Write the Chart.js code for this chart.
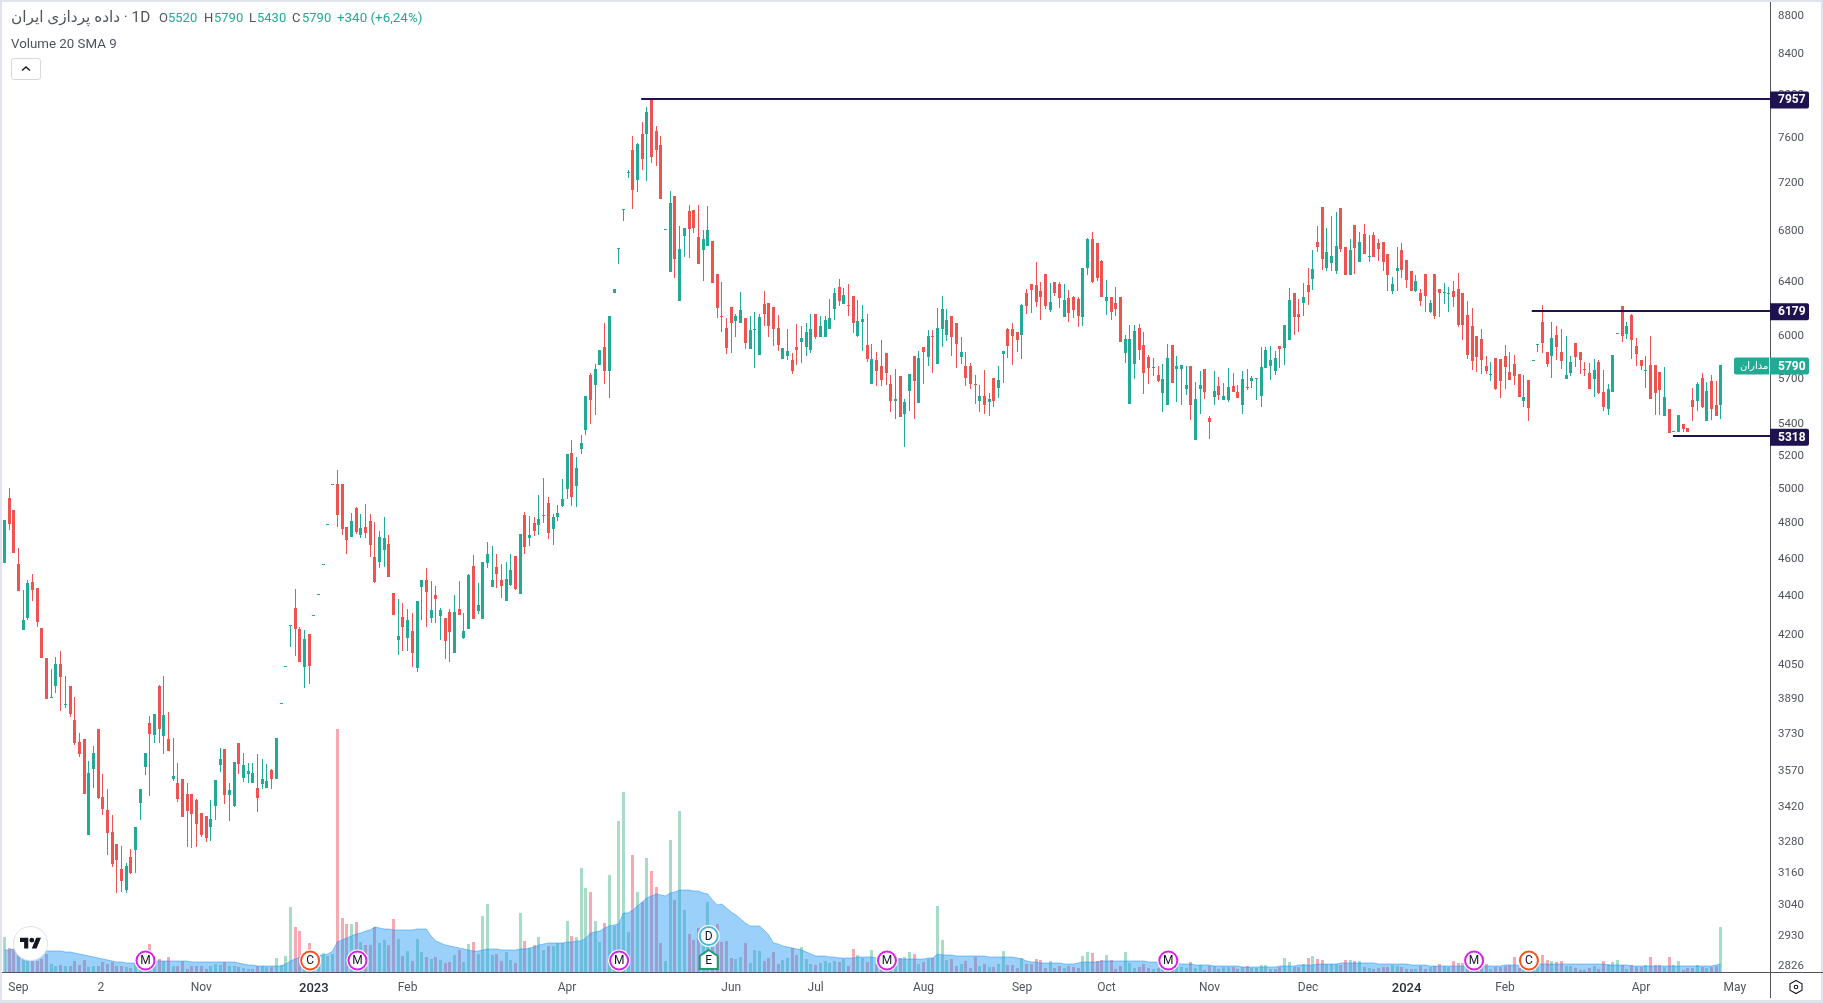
<!DOCTYPE html>
<html>
<head>
<meta charset="utf-8">
<title>داده پردازی ایران</title>
<script src="https://cdn.jsdelivr.net/npm/chart.js@4"></script>
<style>
    html, body { margin: 0; padding: 0; background: #e0e3eb; overflow: hidden; }
    #panel { position: absolute; left: 2px; top: 2px; width: 1819px; height: 998px; background: #fff; }
    #chart { position: absolute; left: 0; top: 0; }
    .txt { position: absolute; font-family: Roboto, "DejaVu Sans", sans-serif; white-space: nowrap; line-height: 16px; color: #50535e; }
    .row { font-size: 13px; top: 10px; }
    .up { color: #22ab94; }
    #btn { position: absolute; left: 11px; top: 58px; width: 28px; height: 20px; border: 1px solid #d6d8df; border-radius: 3px; background: #fff; }
    #logo { position: absolute; left: 14px; top: 927px; width: 33px; height: 33px; border-radius: 50%; background: #fff; box-shadow: 0 0 0 1px #e0e3eb; }
</style>
</head>
<body>
<div id="panel"></div>
<canvas id="chart" width="1823" height="1003"></canvas>

<div class="txt" style="left:11px; top:9px; font-size:15.3px;"><span dir="rtl">داده پردازی ایران</span> · 1D</div>
<div class="txt row" style="left:159px;">O</div><div class="txt row up" style="left:168px;">5520</div>
<div class="txt row" style="left:204px;">H</div><div class="txt row up" style="left:214px;">5790</div>
<div class="txt row" style="left:249px;">L</div><div class="txt row up" style="left:257px;">5430</div>
<div class="txt row" style="left:292px;">C</div><div class="txt row up" style="left:302px;">5790</div>
<div class="txt row up" style="left:337px; font-size:13.4px;">+340 (+6,24%)</div>
<div class="txt" style="left:11px; top:36px; font-size:13.3px;">Volume 20 SMA 9</div>
<div id="btn"><svg width="28" height="20"><path d="M10 11.5 L14 8 L18 11.5" fill="none" stroke="#131722" stroke-width="1.4"/></svg></div>
<div id="logo"><svg width="33" height="33" viewBox="0 0 33 33"><g transform="translate(6 8.5) scale(0.59)" fill="#131722"><path d="M14 22H7V11H0V4h14v18zM28 22h-8l7.5-18h8L28 22z"/><circle cx="20" cy="8" r="4"/></g></svg></div>
<svg style="position:absolute; left:1788px; top:979px;" width="16" height="16" viewBox="0 0 16 16"><path d="M8 1.5 L14 4.8 V11.2 L8 14.5 L2 11.2 V4.8 Z" fill="none" stroke="#131722" stroke-width="1.1"/><circle cx="8" cy="8" r="1.8" fill="none" stroke="#131722" stroke-width="1.1"/></svg>

<script>
// Daily candles
const opens = [
    4573,4941,4871,4566,4220,4281,4469,4437,4230,4081,
    3890,3947,4052,3858,3947,3790,3692,3705,3304,3574,
    3750,3457,3404,3316,3269,3172,3093,3218,3245,3432,
    3583,3776,3723,3947,3718,3705,3532,3516,3532,3470,
    3470,3445,3392,3380,3336,3420,3592,3661,3466,3420,
    3687,3536,3553,3516,3495,3512,3495,3570,3532,3862,
    4036,4240,4332,4225,4037,4200,4292,4400,4560,4785,
    5019,5024,5024,4773,4715,4882,4727,4773,4807,4605,
    4577,4643,4677,4411,4170,4286,4179,4215,4032,4443,
    4480,4281,4400,4291,4281,4312,4106,4327,4179,4225,
    4554,4316,4275,4571,4442,4549,4479,4368,4452,4610,
    4405,4841,4709,4795,4784,4836,4911,4761,4830,4893,
    4994,5213,5011,5240,5360,5724,5656,5793,5918,5751,
    6314,6654,6970,7288,7488,7224,7627,7627,7957,7661,
    7532,6806,6473,7088,6253,6758,6962,6970,6750,6645,
    6676,6717,6458,6142,6055,6208,6105,6091,6127,5904,
    6042,5862,6231,6238,6208,6055,5835,5855,5828,5918,
    5954,5918,5897,6156,5989,5989,6048,6194,6359,6231,
    6224,6291,5996,6098,5932,5662,5828,5786,5876,5662,
    5549,5717,5463,5614,5855,5536,5918,5849,5997,5800,
    6048,6003,6141,6091,5849,5786,5786,5663,5549,5582,
    5542,5702,5636,5869,6048,6048,6026,6004,6311,6380,
    6373,6327,6457,6186,6395,6380,6134,6275,6283,6268,
    6134,6505,6734,6695,6558,6253,6283,6238,6283,5876,
    5530,5799,6054,5933,5848,5775,5725,5602,5523,5933,
    5760,5760,5629,5781,5291,5629,5760,5438,5576,5649,
    5556,5556,5649,5608,5523,5643,5684,5698,5583,5767,
    5781,5752,5926,5912,5968,6311,6156,6238,6373,6418,
    6703,6995,6505,6542,6482,6986,6670,6449,6845,6550,
    6770,6589,6762,6695,6703,6612,6327,6475,6643,6565,
    6475,6327,6311,6457,6171,6457,6342,6312,6305,6327,
    6342,6312,6148,6067,5996,5974,5784,5724,5839,5832,
    5853,5743,5798,5730,5547,5688,5819,5931,6096,5882,
    5853,6003,5882,5695,5737,5945,5882,5760,5737,5695,
    5811,5607,5494,5607,6011,6213,6010,6148,5920,5825,
    5750,5791,5791,5743,5450,5494,5346,5346,5397,5370,
    5554,5547,5702,5416,5681,5520,5520
];
const highs = [
    4813,5001,4871,4654,4427,4480,4512,4437,4230,4081,
    4027,4086,4116,3994,3947,3896,3732,3705,3609,3674,
    3750,3553,3491,3384,3269,3261,3195,3249,3336,3491,
    3644,3809,3818,3952,3994,3827,3709,3600,3532,3516,
    3470,3449,3392,3380,3445,3528,3666,3661,3516,3605,
    3687,3644,3600,3600,3640,3618,3596,3574,3709,3868,
    4041,4244,4432,4235,4220,4200,4297,4406,4566,4791,
    5025,5108,5024,4773,4853,4888,4848,4905,4848,4802,
    4749,4830,4727,4411,4379,4358,4327,4307,4368,4480,
    4544,4475,4448,4332,4281,4327,4400,4475,4306,4510,
    4615,4463,4576,4687,4665,4621,4565,4576,4621,4610,
    4732,4858,4835,4830,4958,5058,4947,4847,4899,5052,
    5207,5294,5189,5328,5582,5737,5800,5897,6091,6141,
    6344,6660,6976,7312,7609,7550,7739,7883,7957,7705,
    7609,6812,7130,7088,6837,6821,7012,6970,7012,6805,
    7004,6717,6458,6396,6127,6208,6156,6321,6127,6141,
    6171,6156,6329,6238,6208,6149,5911,6048,5876,6084,
    6070,6091,6156,6156,6141,6141,6269,6351,6419,6351,
    6381,6291,6261,6223,6156,5939,5883,5968,5876,5724,
    5765,5717,5562,5730,5855,5890,5918,6041,6041,6201,
    6291,6194,6141,6091,5989,5883,5806,5724,5656,5758,
    5602,5702,5786,5890,6055,6091,6026,6230,6342,6380,
    6550,6395,6457,6388,6395,6395,6380,6334,6290,6283,
    6505,6742,6789,6695,6565,6411,6283,6357,6283,6004,
    6075,6075,6082,6025,5862,5841,5781,5799,5940,5933,
    5855,5788,5781,5781,5677,5747,5760,5445,5752,5711,
    5670,5767,5732,5656,5752,5760,5718,5702,5919,5919,
    5926,5888,5926,6075,6349,6311,6268,6388,6505,6643,
    6836,6995,6819,6919,6953,6986,6670,6734,6845,6789,
    6853,6762,6789,6734,6703,6612,6434,6670,6695,6565,
    6475,6449,6342,6457,6260,6457,6342,6388,6357,6403,
    6465,6312,6252,6199,5996,6045,5853,5811,5839,5832,
    5927,5882,5861,5730,5723,5688,5824,5935,6220,5882,
    6096,6067,6045,5996,5853,5945,5882,5811,5805,5832,
    5825,5757,5662,5861,6016,6213,6096,6155,5981,5825,
    5853,5996,5791,5743,5777,5494,5350,5456,5397,5370,
    5635,5675,5737,5675,5723,5681,5790
];
const lows = [
    4573,4755,4627,4422,4220,4271,4368,4235,4081,3886,
    3890,3914,3831,3845,3804,3679,3627,3470,3304,3495,
    3449,3384,3226,3180,3082,3086,3082,3153,3157,3364,
    3549,3462,3687,3687,3640,3653,3524,3437,3376,3257,
    3253,3257,3296,3276,3280,3364,3561,3428,3360,3416,
    3553,3520,3516,3516,3396,3491,3495,3491,3532,3862,
    4036,4135,4091,4061,3938,3956,4292,4400,4560,4785,
    5019,4771,4727,4621,4715,4732,4710,4710,4605,4464,
    4544,4550,4496,4296,4096,4116,4116,4037,4013,4271,
    4235,4256,4256,4170,4076,4061,4106,4296,4174,4225,
    4275,4301,4275,4543,4442,4437,4384,4368,4447,4426,
    4405,4621,4665,4721,4727,4795,4704,4671,4807,4887,
    4935,4893,4887,5209,5328,5399,5456,5793,5662,5569,
    6314,6536,6877,7241,6979,7122,7312,7215,7374,7341,
    7062,6806,6473,6427,6253,6590,6582,6782,6536,6403,
    6676,6388,6127,6026,5869,5876,5989,6091,5904,5904,
    5772,5862,6063,5989,5925,5890,5835,5828,5730,5793,
    5806,5855,5876,5975,5989,5989,6048,6112,6216,6231,
    6141,6018,5989,5890,5813,5662,5649,5649,5656,5476,
    5431,5443,5252,5483,5431,5536,5662,5786,5737,5800,
    5918,5961,5855,5772,5800,5649,5627,5529,5476,5463,
    5450,5509,5569,5669,5842,5793,5883,5834,6156,6163,
    6208,6112,6193,6171,6290,6200,6134,6097,6127,6061,
    6068,6449,6388,6403,6283,6149,6112,6141,5954,5806,
    5530,5697,5825,5596,5663,5718,5677,5477,5523,5670,
    5537,5523,5589,5425,5291,5458,5563,5302,5523,5556,
    5556,5543,5608,5569,5458,5622,5636,5556,5510,5767,
    5690,5725,5767,5788,5968,6004,6025,6141,6223,6334,
    6628,6490,6482,6482,6457,6628,6449,6449,6457,6550,
    6612,6550,6589,6558,6482,6327,6304,6327,6426,6349,
    6327,6319,6215,6171,6163,6119,6134,6230,6171,6208,
    6061,5967,5832,5757,5743,5730,5730,5681,5621,5567,
    5628,5688,5655,5574,5507,5416,5819,5882,5875,5777,
    5702,5825,5763,5695,5716,5777,5730,5716,5628,5574,
    5593,5481,5456,5607,6011,5952,5974,5832,5784,5757,
    5635,5560,5456,5456,5450,5339,5346,5346,5346,5346,
    5416,5481,5500,5416,5423,5450,5430
];
const closes = [
    4813,4790,4627,4422,4271,4464,4427,4261,4081,3886,
    3894,4052,3989,3861,3818,3687,3640,3470,3557,3644,
    3453,3408,3312,3191,3206,3127,3183,3157,3336,3491,
    3644,3727,3818,3750,3813,3653,3545,3449,3376,3400,
    3388,3348,3304,3292,3368,3528,3618,3466,3483,3605,
    3596,3592,3566,3557,3453,3532,3524,3532,3709,3868,
    4041,4244,4225,4061,4175,4042,4297,4406,4566,4791,
    5025,4840,4761,4699,4807,4744,4767,4738,4671,4469,
    4715,4710,4496,4296,4189,4235,4271,4106,4368,4480,
    4417,4322,4379,4322,4165,4210,4312,4296,4215,4505,
    4275,4347,4576,4621,4479,4510,4447,4484,4532,4432,
    4732,4659,4727,4750,4818,4840,4738,4830,4853,4935,
    5207,4947,5120,5277,5582,5556,5765,5897,5751,6141,
    6344,6660,6976,7294,7139,7541,7409,7835,7426,7488,
    7062,6812,7029,6574,6652,6821,6813,6821,6536,6733,
    6805,6388,6201,6136,5911,6091,6141,6186,5947,6041,
    6046,6134,6156,6063,6048,5932,5911,5890,5751,5897,
    5982,6026,6048,5989,6070,6112,6127,6314,6253,6299,
    6218,6091,6105,6120,5835,5835,5751,5689,5737,5549,
    5562,5443,5542,5730,5682,5842,5883,5996,5991,6055,
    6194,6112,5989,5939,5883,5702,5662,5657,5582,5523,
    5562,5549,5689,5890,5925,5996,5968,6223,6215,6334,
    6245,6283,6215,6245,6311,6275,6260,6163,6186,6141,
    6505,6734,6395,6426,6283,6283,6171,6193,5954,5975,
    5975,6032,5897,5738,5767,5780,5684,5697,5841,5670,
    5781,5788,5656,5517,5563,5656,5608,5412,5615,5589,
    5583,5642,5608,5569,5697,5637,5704,5702,5774,5897,
    5825,5841,5905,6075,6260,6134,6134,6283,6319,6497,
    6670,6573,6628,6596,6678,6651,6449,6643,6662,6703,
    6612,6594,6589,6651,6550,6449,6380,6505,6490,6411,
    6327,6403,6253,6290,6238,6141,6311,6316,6309,6283,
    6075,6074,5861,5818,5846,5825,5750,5728,5628,5681,
    5777,5688,5716,5574,5574,5500,5824,5935,5945,5798,
    5981,5913,5818,5723,5811,5846,5825,5754,5628,5757,
    5600,5507,5628,5861,6016,5996,6067,5967,5868,5784,
    5755,5560,5600,5621,5574,5339,5350,5456,5364,5346,
    5507,5662,5507,5614,5494,5450,5790
];

// Volume in units of 100k, no scale is shown so these come from the bar heights
const volumes = [
    35,24,23,22,14,14,11,11,13,18,
    8,6,7,6,6,11,7,12,5,6,
    6,10,8,10,6,6,5,4,9,6,
    6,28,10,13,11,15,6,6,11,3,
    6,6,6,3,6,8,7,10,6,6,
    5,4,3,3,6,6,5,5,14,7,
    16,65,45,41,12,29,10,9,19,16,
    18,243,54,48,48,50,30,27,27,45,
    29,32,27,53,33,16,21,11,33,20,
    15,13,15,12,9,10,17,22,10,28,
    30,18,56,68,17,18,11,20,12,9,
    59,31,24,27,35,22,26,26,29,29,
    51,36,35,104,84,80,51,30,49,97,
    46,151,180,40,117,80,70,114,101,85,
    29,11,132,72,161,62,38,32,44,40,
    70,25,48,30,31,14,13,15,29,9,
    22,21,11,14,20,8,12,14,24,17,
    25,13,8,7,9,11,9,11,10,13,
    6,23,17,14,10,22,8,5,8,5,
    10,14,15,20,18,8,10,13,14,66,
    32,12,13,6,8,11,4,15,6,8,
    5,5,8,21,7,7,4,14,8,8,
    13,12,4,11,4,6,4,6,5,4,
    16,20,19,11,12,17,12,3,6,20,
    9,4,5,8,4,3,4,4,4,4,
    5,5,4,10,4,7,2,6,6,3,
    5,5,5,3,5,6,4,4,7,7,
    3,3,5,14,10,5,5,8,14,16,
    13,12,8,8,8,7,12,12,11,11,
    5,4,3,4,5,5,7,6,5,3,
    3,3,6,3,5,6,8,6,5,11,
    9,9,5,5,5,5,8,3,5,5,
    6,7,15,4,4,5,6,6,17,12,
    11,10,11,6,6,4,2,2,4,6,
    3,11,8,10,12,7,3,7,5,5,
    7,15,7,7,5,15,7,11,2,4,
    4,7,5,4,5,6,45
];

// Volume SMA curve, same units
const volumeSma = [
    22,22,23,23,23,23,22,22,22,21,
    21,21,21,20,20,19,18,17,16,15,
    14,13,12,11,10,10,9,9,9,9,
    10,10,11,11,11,11,11,11,11,11,
    10,10,10,10,10,10,10,10,10,10,
    9,8,7,7,6,6,6,6,6,6,
    8,11,13,15,16,16,17,17,17,18,
    21,30,32,34,36,38,39,41,42,45,
    44,43,43,42,42,42,42,42,43,43,
    43,36,31,29,27,26,25,24,23,22,
    21,21,22,23,23,23,22,22,22,22,
    23,23,24,25,27,28,29,29,29,29,
    30,30,31,31,34,39,40,41,44,46,
    47,48,59,59,62,66,70,74,76,78,
    77,76,79,80,82,82,82,81,81,79,
    78,72,67,68,64,60,57,53,49,46,
    46,46,42,37,29,28,26,25,24,23,
    22,20,18,16,16,16,15,15,14,14,
    14,14,15,15,15,15,14,14,14,14,
    14,13,13,13,13,13,13,14,14,18,
    17,17,17,16,16,16,16,16,16,16,
    15,15,15,15,15,15,14,13,11,10,
    10,9,9,9,9,9,8,8,8,9,
    10,10,10,10,11,11,11,11,11,11,
    11,11,11,11,10,10,10,10,10,9,
    9,8,8,8,7,7,7,7,6,6,
    6,6,6,6,5,5,5,5,5,5,
    5,5,6,6,6,6,7,7,7,7,
    8,8,8,8,8,9,9,9,9,9,
    9,9,9,8,8,8,8,8,8,8,
    7,7,7,7,6,6,6,6,6,6,
    6,6,6,6,6,6,6,6,6,6,
    7,7,7,7,7,7,8,8,8,8,
    8,8,8,8,8,8,8,8,8,8,
    8,8,7,7,7,7,7,6,6,6,
    6,6,6,6,6,6,6,6,6,6,
    6,6,6,6,6,7,8
];

// Axis labels
const xTickLabels = ['Sep', '2', 'Nov', '2023', 'Feb', 'Apr', 'Jun', 'Jul', 'Aug', 'Sep', 'Oct', 'Nov', 'Dec', '2024', 'Feb', 'Apr', 'May'];
const xTickIndex = [3, 20.6, 42, 66, 86, 120, 155, 173, 196, 217, 235, 257, 278, 299, 320, 349, 369];
const yTickValues = [8800, 8400, 8000, 7600, 7200, 6800, 6400, 6000, 5700, 5400, 5200, 5000, 4800, 4600, 4400, 4200, 4050, 3890, 3730, 3570, 3420, 3280, 3160, 3040, 2930, 2826];

// Horizontal levels and the bar each one starts from
const levelValues = [7957, 6179, 5318];
const levelStart = [135.8, 325.7, 355.8];
const lastPrice = 5790;

// Event badges on the volume pane
const eventLabels = ['M', 'C', 'M', 'M', 'D', 'E', 'M', 'M', 'M', 'C'];
const eventIndex = [30.1, 65.2, 75.3, 131.1, 150.2, 150.2, 188.2, 248.2, 313.4, 325.1];
const eventVolume = [11.5, 11.5, 11.5, 11.5, 36, 12, 11.5, 11.5, 11.5, 11.5];

const UP = '#22ab94';
const DOWN = '#ef5350';
const NAVY = '#1e1250';
const TEXT = '#50535e';
const index = opens.map((_, i) => i);
const isUp = index.map(i => closes[i] >= opens[i]);

// Snap bars and level lines to whole pixels so they stay sharp
const snapMarks = {
    id: 'snapMarks',
    afterDatasetsUpdate(chart) {
        chart.data.datasets.forEach((ds, i) => {
            const marks = chart.getDatasetMeta(i).data;
            if (ds.type === 'bar') {
                marks.forEach(bar => {
                    bar.x = Math.round(bar.x - 0.5) + 0.5;
                    bar.y = Math.round(bar.y);
                    bar.base = Math.round(bar.base);
                    if (Math.abs(bar.y - bar.base) < 1) bar.base = bar.y + 1;
                });
            } else if (ds.label.startsWith('Level')) {
                marks.forEach(point => { point.y = Math.round(point.y); });
            }
        });
    }
};

function isYearTick(ctx) {
    return !!ctx.tick && ['2023', '2024'].includes(xTickLabels[xTickIndex.indexOf(ctx.tick.value)]);
}

function drawBadge(ctx, x, y, label) {
    const colors = { M: '#d81fe8', C: '#f4511e', D: '#4fb3dc', E: '#1f9a6a' };
    ctx.save();
    if (label === 'E') {
        ctx.beginPath();
        ctx.moveTo(x, y - 10);
        ctx.lineTo(x + 9, y - 4);
        ctx.lineTo(x + 9, y + 9);
        ctx.lineTo(x - 9, y + 9);
        ctx.lineTo(x - 9, y - 4);
        ctx.closePath();
        ctx.fillStyle = '#fff';
        ctx.strokeStyle = colors.E;
        ctx.lineWidth = 2;
        ctx.fill();
        ctx.stroke();
    } else {
        ctx.beginPath();
        ctx.arc(x, y, 11, 0, Math.PI * 2);
        ctx.fillStyle = '#fff';
        ctx.fill();
        ctx.beginPath();
        ctx.arc(x, y, 9, 0, Math.PI * 2);
        ctx.strokeStyle = colors[label];
        ctx.lineWidth = 2;
        ctx.stroke();
    }
    ctx.fillStyle = '#131722';
    ctx.font = '12px Roboto';
    ctx.textAlign = 'center';
    ctx.textBaseline = 'middle';
    ctx.fillText(label, x, y + 0.5);
    ctx.restore();
}

// Price tags, frame ends and badges sit on top of everything
const overlay = {
    id: 'overlay',
    afterDraw(chart) {
        const { ctx, chartArea: area, scales } = chart;
        ctx.save();

        ctx.fillStyle = TEXT;
        ctx.fillRect(area.right, area.bottom, 1823 - area.right, 1);
        ctx.fillRect(area.right, area.bottom, 1, 998 - area.bottom);

        eventLabels.forEach((label, i) => {
            drawBadge(ctx, scales.x.getPixelForValue(eventIndex[i]), scales.yVol.getPixelForValue(eventVolume[i]), label);
        });

        ctx.textBaseline = 'middle';
        ctx.textAlign = 'left';
        levelValues.forEach(value => {
            const y = scales.y.getPixelForValue(value) + 1;
            ctx.fillStyle = NAVY;
            ctx.beginPath();
            ctx.roundRect(area.right, y - 8.5, 39, 17, [0, 2, 2, 0]);
            ctx.fill();
            ctx.fillStyle = '#fff';
            ctx.font = 'bold 12px Roboto';
            ctx.fillText(String(value), area.right + 8, y + 0.5);
        });

        const y = scales.y.getPixelForValue(lastPrice) + 1;
        ctx.fillStyle = UP;
        ctx.beginPath();
        ctx.roundRect(area.right - 36, y - 8.5, 75, 17, 2);
        ctx.fill();
        ctx.fillStyle = '#fff';
        ctx.fillRect(area.right - 1, y - 8.5, 1, 17);
        ctx.font = 'bold 12px Roboto';
        ctx.fillText(String(lastPrice), area.right + 8, y + 0.5);
        ctx.font = '10px "DejaVu Sans"';
        ctx.fillText('مداران', area.right - 30, y + 0.5);
        ctx.restore();
    }
};

const barDefaults = { type: 'bar', grouped: false, borderWidth: 0, inflateAmount: 0, xAxisID: 'x' };

new Chart(document.getElementById('chart').getContext('2d'), {
    data: {
        datasets: [
            {
                ...barDefaults,
                label: 'Volume',
                order: 5,
                yAxisID: 'yVol',
                barThickness: 3,
                data: index.map(i => ({ x: i, y: volumes[i] })),
                backgroundColor: index.map(i => isUp[i] ? '#a8dcc6' : '#f7a8b0')
            },
            {
                type: 'line',
                label: 'Volume SMA',
                order: 4,
                yAxisID: 'yVol',
                xAxisID: 'x',
                data: index.map(i => ({ x: i, y: volumeSma[i] })),
                borderColor: 'rgba(33, 150, 243, 0.5)',
                borderWidth: 1,
                backgroundColor: 'rgba(33, 150, 243, 0.45)',
                fill: 'origin',
                pointRadius: 0,
                tension: 0
            },
            {
                ...barDefaults,
                label: 'Wick',
                order: 3,
                yAxisID: 'y',
                barThickness: 1,
                data: index.map(i => ({ x: i, y: [lows[i], highs[i]] })),
                backgroundColor: index.map(i => isUp[i] ? UP : DOWN)
            },
            {
                ...barDefaults,
                label: 'Body',
                order: 2,
                yAxisID: 'y',
                barThickness: 3,
                data: index.map(i => ({ x: i, y: [opens[i], closes[i]] })),
                backgroundColor: index.map(i => isUp[i] ? UP : DOWN)
            },
            ...levelValues.map((value, i) => ({
                type: 'line',
                label: 'Level ' + value,
                order: 1,
                yAxisID: 'y',
                xAxisID: 'x',
                data: [{ x: levelStart[i], y: value }, { x: 376.5, y: value }],
                borderColor: NAVY,
                borderWidth: 2,
                pointRadius: 0
            }))
        ]
    },
    options: {
        responsive: false,
        animation: false,
        devicePixelRatio: 1,
        layout: { padding: { left: 2, top: 2, right: 0, bottom: 0 } },
        plugins: { legend: { display: false }, tooltip: { enabled: false } },
        scales: {
            x: {
                type: 'linear',
                offset: false,
                bounds: 'data',
                min: -0.5,
                max: 376.5,
                grid: { display: false, drawTicks: false },
                border: { display: true, color: TEXT },
                afterBuildTicks: scale => { scale.ticks = xTickIndex.map(value => ({ value })); },
                // fixed axis size, label overhang must not shrink the plot
                afterFit: scale => { scale.height = 31; scale.paddingLeft = 0; scale.paddingRight = 0; },
                ticks: {
                    autoSkip: false,
                    maxRotation: 0,
                    padding: 9,
                    color: ctx => isYearTick(ctx) ? '#2a2e39' : TEXT,
                    font: ctx => ({ family: 'Roboto', size: isYearTick(ctx) ? 13 : 12, weight: isYearTick(ctx) ? '500' : '400' }),
                    callback: value => xTickLabels[xTickIndex.indexOf(value)]
                }
            },
            y: {
                type: 'logarithmic',
                position: 'right',
                bounds: 'data',
                min: 2804,
                max: 8934,
                grid: { display: false, drawTicks: false },
                border: { display: true, color: TEXT },
                afterBuildTicks: scale => { scale.ticks = yTickValues.map(value => ({ value })); },
                afterFit: scale => { scale.width = 53; scale.paddingTop = 0; scale.paddingBottom = 0; },
                ticks: {
                    autoSkip: false,
                    padding: 8,
                    labelOffset: 1,
                    color: TEXT,
                    font: { family: 'Roboto', size: 11.5 },
                    callback: value => String(value)
                }
            },
            yVol: {
                type: 'linear',
                display: false,
                bounds: 'data',
                min: 0,
                max: 970
            }
        }
    },
    plugins: [snapMarks, overlay]
});
</script>
</body>
</html>
